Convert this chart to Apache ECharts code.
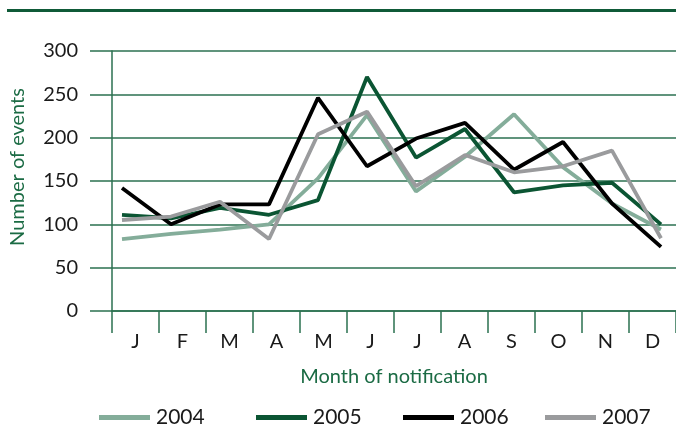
<!DOCTYPE html>
<html>
<head>
<meta charset="utf-8">
<script src="https://cdn.jsdelivr.net/npm/echarts@6/dist/echarts.min.js"></script>
<style>
  html, body { margin: 0; padding: 0; background: #fff; }
  #chart { width: 676px; height: 428px; }
</style>
</head>
<body>
<div id="chart"></div>
<script>
const months = ["J", "F", "M", "A", "M", "J", "J", "A", "S", "O", "N", "D"];
const years = ["2004", "2005", "2006", "2007"];
const y2004 = [83, 89, 94, 100, 153, 226, 138, 178, 227, 166, 124, 94];
const y2005 = [111, 107, 119, 111, 128, 270, 177, 210, 137, 145, 148, 100];
const y2006 = [142, 100, 123, 123, 246, 167, 199, 217, 163, 195, 124, 74];
const y2007 = [105, 109, 126, 83, 204, 230, 144, 180, 160, 167, 185, 84];
const yTicks = [0, 50, 100, 150, 200, 250, 300];

const colors = ["#84ad9a", "#0b5533", "#000000", "#9a9b9d"];
const green = "#2b7150";
const font = "Lato";

const chart = echarts.init(document.getElementById("chart"));

const seriesData = [y2004, y2005, y2006, y2007];
const series = seriesData.map((data, i) => ({
  name: years[i],
  type: "line",
  xAxisIndex: 1,
  yAxisIndex: 1,
  data: data,
  symbol: "none",
  lineStyle: { width: 3.8, color: colors[i] },
  itemStyle: { color: colors[i] },
  animation: false,
}));

// one legend per year so the items sit where the original has them
const legendLeft = [94, 251, 398, 540];
const legends = years.map((y, i) => ({
  data: [y],
  left: legendLeft[i],
  top: 402,
  icon: "rect",
  itemWidth: 51,
  itemHeight: 5,
  textStyle: { fontFamily: font, fontSize: 21, color: "#1a1a1a", padding: [0, 0, 0, 1] },
}));

const option = {
  backgroundColor: "#fff",
  animation: false,
  color: colors,
  graphic: [
    {
      type: "rect",
      shape: { x: 7, y: 9, width: 669, height: 3 },
      style: { fill: "#0f5a38" },
    },
  ],
  grid: [
    { left: 110, right: 0, top: 51, bottom: 117 },
    // points sit a bit wider apart than the month bands
    { left: 122, right: 15, top: 51, bottom: 117 },
  ],
  legend: legends,
  xAxis: [
    {
      type: "category",
      gridIndex: 0,
      data: months,
      boundaryGap: true,
      name: "Month of notification",
      nameLocation: "middle",
      nameGap: 56,
      nameTextStyle: { fontFamily: font, fontSize: 20, color: "#1b6b44" },
      axisLine: { show: true, lineStyle: { color: green, width: 1.5 } },
      axisTick: { show: true, alignWithLabel: false, length: 22, lineStyle: { color: green, width: 1.5 } },
      axisLabel: { fontFamily: font, fontSize: 20, color: "#1a1a1a", margin: 21 },
      splitLine: { show: false },
    },
    {
      type: "category",
      gridIndex: 1,
      data: months,
      boundaryGap: false,
      show: false,
    },
  ],
  yAxis: [
    {
      type: "value",
      gridIndex: 0,
      min: yTicks[0],
      max: yTicks[yTicks.length - 1],
      interval: 50,
      name: "Number of events",
      nameLocation: "middle",
      nameGap: 84,
      nameTextStyle: { fontFamily: font, fontSize: 20, color: "#1b6b44", padding: [0, 0, 0, 28] },
      axisLine: { show: true, lineStyle: { color: green, width: 1.5 } },
      axisTick: { show: true, length: 22, lineStyle: { color: green, width: 1.5 } },
      axisLabel: { fontFamily: font, fontSize: 20, color: "#1a1a1a", margin: 34 },
      splitLine: { show: true, lineStyle: { color: green, width: 1.5 } },
    },
    {
      type: "value",
      gridIndex: 1,
      min: yTicks[0],
      max: yTicks[yTicks.length - 1],
      show: false,
    },
  ],
  series: series,
};

chart.setOption(option);
</script>
</body>
</html>
